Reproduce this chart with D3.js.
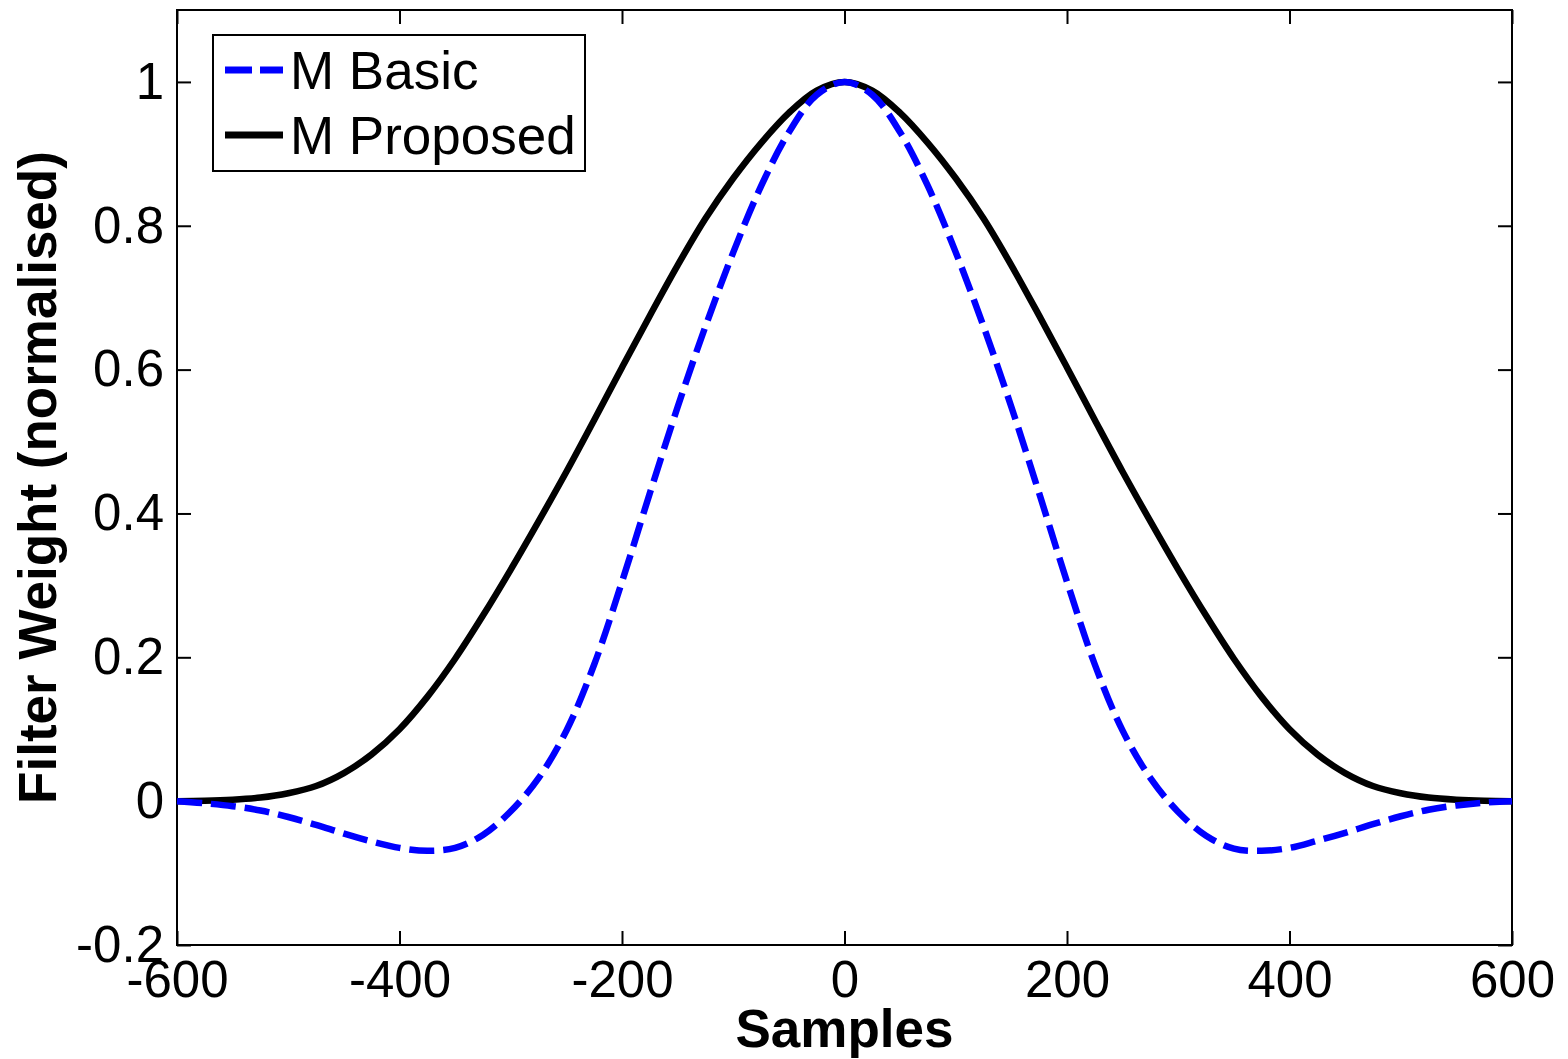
<!DOCTYPE html>
<html>
<head>
    <title>Filter weights</title>
    <style type="text/css">
        body { margin: 0; background: #fff; }
        svg text { font-family: "Liberation Sans", Arial, sans-serif; fill: #000; }
    </style>
</head>
<body>
    <script src="https://d3js.org/d3.v7.min.js" type="text/javascript"></script>
    <script type="text/javascript">

        // sample positions (x) and the two filter curves
        var samples = [-600, -575, -550, -525, -500, -475, -450, -425, -400, -375, -350, -325, -300,
            -275, -250, -225, -200, -175, -150, -125, -100, -75, -50, -25, 0,
            25, 50, 75, 100, 125, 150, 175, 200, 225, 250, 275, 300,
            325, 350, 375, 400, 425, 450, 475, 500, 525, 550, 575, 600];

        var basicWeights = [0, -0.003, -0.007, -0.013, -0.022, -0.033, -0.045, -0.056, -0.065, -0.069, -0.065, -0.047, -0.014,
            0.032, 0.098, 0.19, 0.305, 0.428, 0.548, 0.66, 0.763, 0.855, 0.93, 0.982, 1.0,
            0.982, 0.93, 0.855, 0.763, 0.66, 0.548, 0.428, 0.305, 0.19, 0.098, 0.032, -0.015,
            -0.048, -0.066, -0.069, -0.065, -0.055, -0.044, -0.032, -0.021, -0.012, -0.006, -0.002, 0];

        var proposedWeights = [0, 0.0005, 0.002, 0.005, 0.011, 0.021, 0.039, 0.065, 0.1, 0.145, 0.198, 0.258, 0.322,
            0.389, 0.458, 0.53, 0.603, 0.675, 0.745, 0.81, 0.866, 0.915, 0.957, 0.988, 1.0,
            0.988, 0.957, 0.915, 0.866, 0.81, 0.745, 0.675, 0.603, 0.53, 0.458, 0.389, 0.322,
            0.258, 0.198, 0.145, 0.1, 0.065, 0.039, 0.021, 0.011, 0.005, 0.002, 0.0005, 0];

        var seriesNames = ['M Basic', 'M Proposed'];
        var xTicks = [-600, -400, -200, 0, 200, 400, 600];
        var yTicks = [-0.2, 0, 0.2, 0.4, 0.6, 0.8, 1];

        var W = 1568, H = 1059;
        var plotL = 177, plotR = 1512, plotT = 10, plotB = 945;
        var tickFont = 51, titleFont = 53;

        var svg = d3.select('body').append('svg')
            .attr('width', W)
            .attr('height', H);

        var x = d3.scaleLinear().domain([-600, 600]).range([plotL, plotR]);
        var y = d3.scaleLinear().domain([-0.2, 1.1]).range([plotB, plotT]);

        var fmt = function (d) { return String(+d.toFixed(1)); };
        var tick = 14;

        function styleAxis(g) {
            g.selectAll('.domain').remove();
            g.selectAll('line').attr('stroke', '#000').attr('stroke-width', 2);
            g.selectAll('text').attr('font-family', null).attr('font-size', null)
                .style('font-size', tickFont + 'px');
        }

        svg.append('g')
            .attr('transform', 'translate(0,' + plotB + ')')
            .call(d3.axisBottom(x).tickValues(xTicks).tickFormat(fmt).tickSize(-tick).tickPadding(16))
            .call(styleAxis);
        svg.append('g')
            .attr('transform', 'translate(0,' + plotT + ')')
            .call(d3.axisTop(x).tickValues(xTicks).tickFormat('').tickSize(-tick))
            .call(styleAxis);
        svg.append('g')
            .attr('transform', 'translate(' + plotL + ',0)')
            .call(d3.axisLeft(y).tickValues(yTicks).tickFormat(fmt).tickSize(-tick).tickPadding(13))
            .call(styleAxis);
        svg.append('g')
            .attr('transform', 'translate(' + plotR + ',0)')
            .call(d3.axisRight(y).tickValues(yTicks).tickFormat('').tickSize(-tick))
            .call(styleAxis);

        // frame
        svg.append('rect')
            .attr('x', plotL).attr('y', plotT)
            .attr('width', plotR - plotL).attr('height', plotB - plotT)
            .attr('fill', 'none').attr('stroke', '#000').attr('stroke-width', 2);

        var line = d3.line()
            .x(function (d) { return x(d[0]); })
            .y(function (d) { return y(d[1]); })
            .curve(d3.curveCatmullRom);

        svg.append('path')
            .datum(d3.zip(samples, proposedWeights))
            .attr('d', line)
            .attr('fill', 'none').attr('stroke', '#000').attr('stroke-width', 6.5)
            .attr('stroke-linejoin', 'round');

        svg.append('path')
            .datum(d3.zip(samples, basicWeights))
            .attr('d', line)
            .attr('fill', 'none').attr('stroke', '#0000ff').attr('stroke-width', 6.5)
            .attr('stroke-dasharray', '25,9');

        // axis titles
        svg.append('text')
            .attr('x', (plotL + plotR) / 2).attr('y', 1047)
            .attr('text-anchor', 'middle')
            .style('font-size', titleFont + 'px').style('font-weight', 'bold')
            .text('Samples');
        svg.append('text')
            .attr('transform', 'translate(56,' + (plotT + plotB) / 2 + ') rotate(-90)')
            .attr('text-anchor', 'middle')
            .style('font-size', titleFont + 'px').style('font-weight', 'bold')
            .text('Filter Weight (normalised)');

        // legend
        var lg = svg.append('g').attr('transform', 'translate(213,35)');
        lg.append('rect')
            .attr('width', 372).attr('height', 136)
            .attr('fill', '#fff').attr('stroke', '#000').attr('stroke-width', 2);
        var rows = lg.selectAll('g.row').data(seriesNames).enter().append('g')
            .attr('transform', function (d, i) { return 'translate(0,' + (35 + i * 65) + ')'; });
        rows.append('line')
            .attr('x1', 12).attr('x2', 70)
            .attr('stroke', function (d, i) { return i === 0 ? '#0000ff' : '#000'; })
            .attr('stroke-width', 7)
            .attr('stroke-dasharray', function (d, i) { return i === 0 ? '27,8' : null; });
        rows.append('text')
            .attr('x', 77).attr('y', 19)
            .style('font-size', titleFont + 'px')
            .text(function (d) { return d; });
    </script>
</body>
</html>
